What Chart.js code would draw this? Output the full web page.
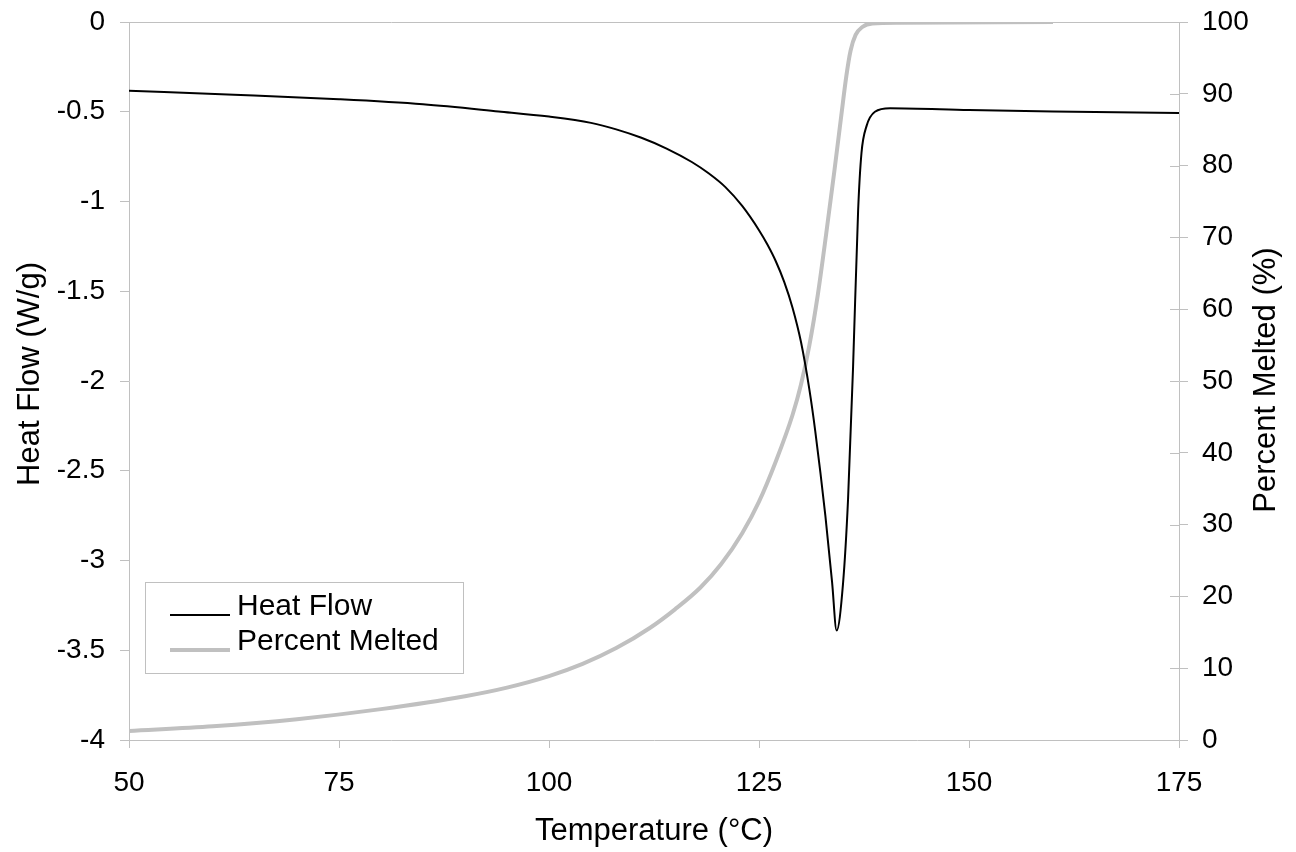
<!DOCTYPE html>
<html>
<head>
<meta charset="utf-8">
<title>Heat Flow and Percent Melted</title>
<script src="https://cdn.jsdelivr.net/npm/chart.js@4.4.1/dist/chart.umd.min.js"></script>
<style>
  html, body { margin: 0; padding: 0; background: #ffffff; }
  #c { display: block; }
</style>
</head>
<body>
<canvas id="c" width="1296" height="852"></canvas>
<script>
// DSC melting scan: heat flow (left axis) and cumulative percent melted (right axis)
const heatFlowTemps = [50, 62.5, 75, 85, 94, 100, 105, 108, 111, 114, 117, 119, 121, 123, 125, 126, 127, 128, 129, 130, 131, 131.7, 132.9, 133.7, 134.24, 135.0, 135.6, 136.2, 136.8, 137.2, 137.8, 138.8, 140.6, 150, 160, 175];
const heatFlowValues = [-0.383, -0.405, -0.43, -0.458, -0.498, -0.527, -0.562, -0.598, -0.645, -0.705, -0.78, -0.843, -0.92, -1.025, -1.16, -1.24, -1.333, -1.448, -1.593, -1.783, -2.048, -2.28, -2.75, -3.12, -3.39, -3.13, -2.66, -1.92, -1.05, -0.73, -0.58, -0.50, -0.48, -0.49, -0.498, -0.507];

const meltTemps = [50, 60, 70, 80, 90, 95, 100, 104, 108, 112, 115, 118, 120.5, 123, 125, 127, 129, 130, 131, 132, 133, 134, 134.8, 135.4, 135.9, 136.5, 137.3, 138.5, 141.8, 160];
const meltPercents = [1.25, 1.9, 2.9, 4.3, 6.1, 7.3, 8.9, 10.6, 12.8, 15.6, 18.2, 21.2, 24.5, 28.8, 33.2, 38.8, 45.3, 49.5, 55.0, 62.0, 70.5, 79.5, 87.0, 92.5, 96.0, 98.2, 99.3, 99.8, 99.9, 100];

const tempTicks = [50, 75, 100, 125, 150, 175];
const heatFlowTicks = [0, -0.5, -1, -1.5, -2, -2.5, -3, -3.5, -4];
const percentTicks = [0, 10, 20, 30, 40, 50, 60, 70, 80, 90, 100];

const seriesNames = ['Heat Flow', 'Percent Melted'];
const axisTitles = { x: 'Temperature (°C)', y: 'Heat Flow (W/g)', y2: 'Percent Melted (%)' };

const AXIS_COLOR = '#c0c0c0';
const HEAT_COLOR = '#000000';
const MELT_COLOR = '#c0c0c0';
const FONT_FAMILY = '"Liberation Sans", Arial, Helvetica, sans-serif';
const TICK_FONT = { family: FONT_FAMILY, size: 28 };

const toPoints = (xs, ys) => xs.map((x, i) => ({ x: x, y: ys[i] }));

// axis line along the top, inner ticks on the right axis, rotated titles and legend box
const decorations = {
  id: 'decorations',
  afterDraw(chart) {
    const { ctx, chartArea: a, scales } = chart;
    ctx.save();
    ctx.strokeStyle = AXIS_COLOR;
    ctx.lineWidth = 1;
    ctx.beginPath();
    ctx.moveTo(a.left, a.top + 0.5);
    ctx.lineTo(a.right, a.top + 0.5);
    scales.y2.ticks.forEach(t => {
      const py = Math.round(scales.y2.getPixelForValue(t.value)) + 0.5;
      ctx.moveTo(a.right - 9, py);
      ctx.lineTo(a.right, py);
    });
    ctx.stroke();

    // axis titles
    ctx.fillStyle = '#000000';
    ctx.font = '31px ' + FONT_FAMILY;
    ctx.textAlign = 'center';
    ctx.textBaseline = 'middle';
    ctx.fillText(axisTitles.x, (a.left + a.right) / 2, 831);
    ctx.save();
    ctx.translate(30, 374);
    ctx.rotate(-Math.PI / 2);
    ctx.fillText(axisTitles.y, 0, 0);
    ctx.restore();
    ctx.save();
    ctx.translate(1266, 380);
    ctx.rotate(-Math.PI / 2);
    ctx.fillText(axisTitles.y2, 0, 0);
    ctx.restore();

    // legend
    const bx = 145.5, by = 582.5, bw = 318, bh = 91;
    ctx.fillStyle = '#ffffff';
    ctx.fillRect(bx, by, bw, bh);
    ctx.strokeStyle = AXIS_COLOR;
    ctx.strokeRect(bx, by, bw, bh);
    const entries = [
      { label: seriesNames[0], color: HEAT_COLOR, width: 2, y: 615 },
      { label: seriesNames[1], color: MELT_COLOR, width: 4, y: 650 }
    ];
    ctx.font = '30px ' + FONT_FAMILY;
    ctx.textAlign = 'left';
    ctx.textBaseline = 'alphabetic';
    entries.forEach(e => {
      ctx.strokeStyle = e.color;
      ctx.lineWidth = e.width;
      ctx.beginPath();
      ctx.moveTo(170, e.y);
      ctx.lineTo(230, e.y);
      ctx.stroke();
      ctx.fillStyle = '#000000';
      ctx.fillText(e.label, 237, e.y);
    });
    ctx.restore();
  }
};

const fixWidth = w => s => { s.width = w; s.paddingTop = 0; s.paddingBottom = 0; };

new Chart(document.getElementById('c'), {
  type: 'line',
  data: {
    datasets: [
      {
        label: seriesNames[0],
        data: toPoints(heatFlowTemps, heatFlowValues),
        yAxisID: 'y',
        borderColor: HEAT_COLOR,
        borderWidth: 2,
        pointRadius: 0,
        cubicInterpolationMode: 'monotone',
        fill: false
      },
      {
        label: seriesNames[1],
        data: toPoints(meltTemps, meltPercents),
        yAxisID: 'y2',
        borderColor: MELT_COLOR,
        borderWidth: 4,
        pointRadius: 0,
        cubicInterpolationMode: 'monotone',
        fill: false
      }
    ]
  },
  options: {
    responsive: false,
    animation: false,
    devicePixelRatio: 1,
    layout: { padding: { top: 22, left: 0, right: 0, bottom: 0 } },
    plugins: { legend: { display: false }, tooltip: { enabled: false } },
    scales: {
      x: {
        type: 'linear',
        position: 'bottom',
        min: tempTicks[0],
        max: tempTicks[tempTicks.length - 1],
        afterBuildTicks: s => { s.ticks = tempTicks.map(v => ({ value: v })); },
        afterFit: s => { s.height = 112; s.paddingLeft = 0; s.paddingRight = 0; },
        ticks: { font: TICK_FONT, color: '#000000', padding: 18, maxRotation: 0, callback: v => String(v) },
        grid: { drawOnChartArea: false, color: AXIS_COLOR, tickLength: 8 },
        border: { color: AXIS_COLOR }
      },
      y: {
        type: 'linear',
        position: 'left',
        min: -4,
        max: 0,
        afterBuildTicks: s => { s.ticks = heatFlowTicks.map(v => ({ value: v })); },
        afterFit: fixWidth(129),
        ticks: { font: TICK_FONT, color: '#000000', padding: 15, callback: v => String(v) },
        grid: { drawOnChartArea: false, color: AXIS_COLOR, tickLength: 9 },
        border: { color: AXIS_COLOR }
      },
      y2: {
        type: 'linear',
        position: 'right',
        min: 0,
        max: 100,
        afterBuildTicks: s => { s.ticks = percentTicks.map(v => ({ value: v })); },
        afterFit: fixWidth(117),
        ticks: { font: TICK_FONT, color: '#000000', padding: 14, callback: v => String(v) },
        grid: { drawOnChartArea: false, color: AXIS_COLOR, tickLength: 9 },
        border: { color: AXIS_COLOR }
      }
    }
  },
  plugins: [decorations]
});
</script>
</body>
</html>
